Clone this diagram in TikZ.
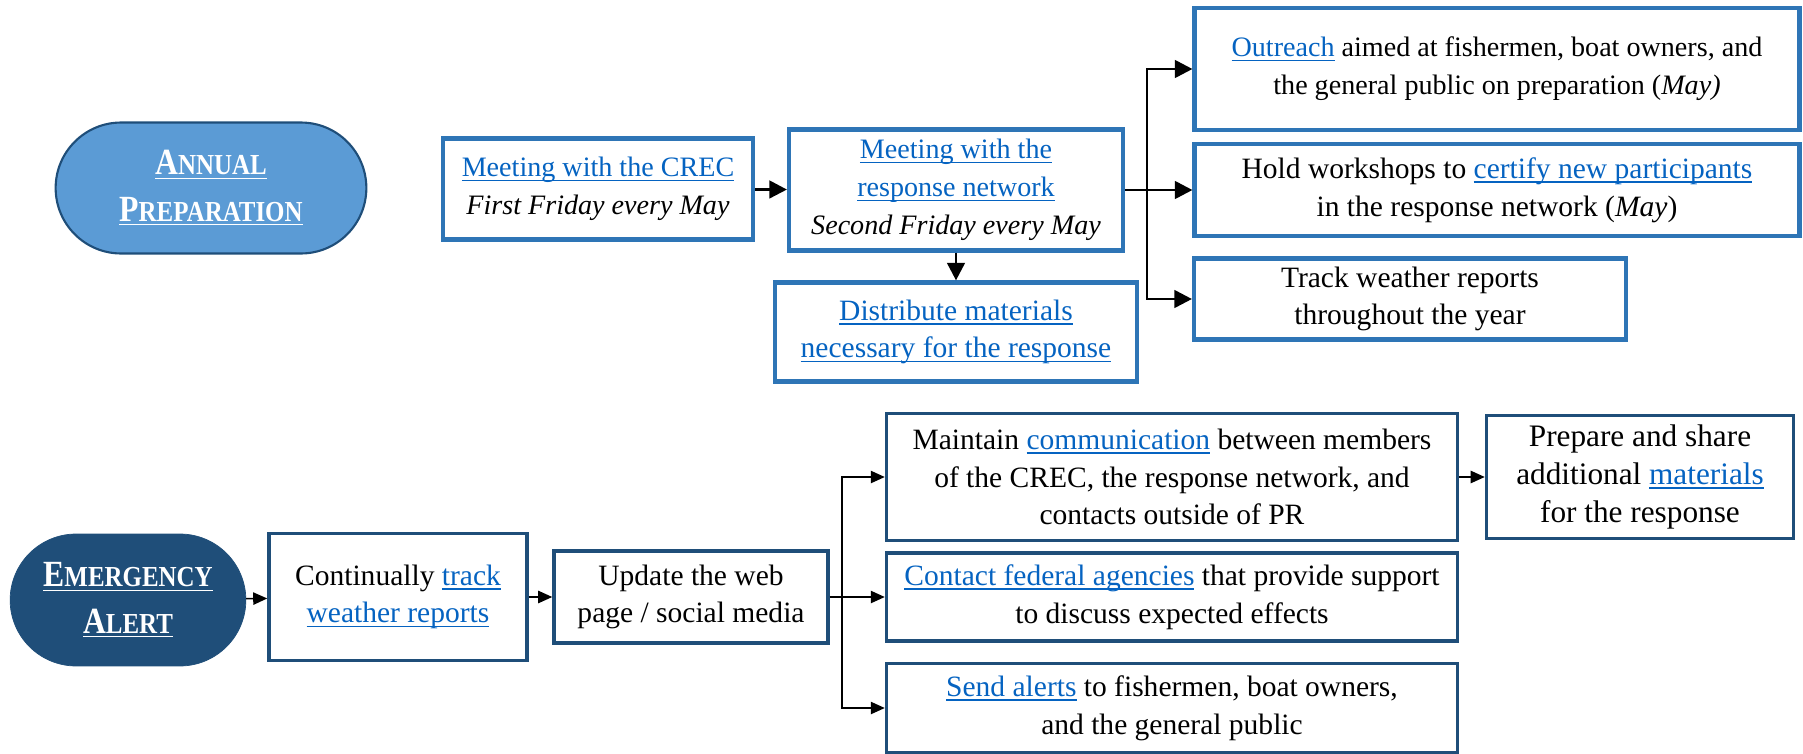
\documentclass[tikz,border=0pt]{standalone}
\usepackage{fontspec}
\setmainfont{Liberation Serif}
\newfontfamily\headfont{Liberation Serif}[FakeStretch=0.86]
\usetikzlibrary{shapes.misc,arrows.meta}
\definecolor{boxblue}{HTML}{2E75B6}
\definecolor{navy}{HTML}{1F4E79}
\definecolor{sky}{HTML}{5B9BD5}
\definecolor{linkblue}{HTML}{0563C1}
\newcommand{\ul}[1]{\setbox0\hbox{#1}\rlap{\vrule height -1.6pt depth 2.5pt width \wd0}\box0}
\newcommand{\lnk}[1]{\textcolor{linkblue}{\ul{#1}}}
\newcommand{\capsc}[2]{\ul{{\fontsize{21}{24}\selectfont #1}{\fontsize{16.5}{24}\selectfont #2}}}
\begin{document}
\begin{tikzpicture}[x=0.02cm,y=-0.02cm,
  font=\fontsize{16.8}{21.5}\selectfont,
  topbox/.style={draw=boxblue,line width=2.4pt,align=center,inner sep=0pt},
  botbox/.style={draw=navy,line width=2pt,align=center,inner sep=0pt},
  phase/.style={rounded rectangle,draw=navy,align=center,text=white,font=\headfont\bfseries},
  toparrow/.style={line width=1.6pt,-{Triangle[length=10pt,width=10pt]}},
  botarrow/.style={line width=0.9pt,-{Triangle[length=8pt,width=7pt]}}]
\useasboundingbox (0,0) rectangle (1803,754);
\node[phase,fill=sky,line width=1.2pt,minimum width=6.45cm,minimum height=2.62cm] (annual) at (211,188)
  {\capsc{A}{NNUAL}\\[9pt] \capsc{P}{REPARATION}};
\node[topbox,minimum width=6.2cm,minimum height=2.02cm,font=\fontsize{16}{21.5}\selectfont] (crec) at (598,189)
  {\lnk{Meeting with the CREC}\\ \textit{First Friday every May}};
\node[topbox,minimum width=6.68cm,minimum height=2.42cm,font=\fontsize{16}{21.5}\selectfont] (meet) at (956,190)
  {\lnk{Meeting with the}\\ \lnk{response network}\\ \textit{Second Friday every May}};
\node[topbox,minimum width=7.24cm,minimum height=1.98cm] (dist) at (956,332)
  {\lnk{Distribute materials}\\ \lnk{necessary for the response}};
\node[topbox,minimum width=12.1cm,minimum height=2.44cm,font=\fontsize{16}{21.5}\selectfont] (outreach) at (1497,69)
  {\lnk{Outreach} aimed at fishermen, boat owners, and\\ the general public on preparation (\textit{May)}};
\node[topbox,minimum width=12.1cm,minimum height=1.84cm] (hold) at (1497,190)
  {Hold workshops to \lnk{certify new participants}\\ in the response network (\textit{May})};
\node[topbox,minimum width=8.64cm,minimum height=1.62cm] (track) at (1410,299)
  {Track weather reports\\ throughout the year};
\coordinate (tj) at (1147,190);
\draw[toparrow] (crec) -- (meet);
\draw[toparrow] (meet) -- (dist);
\draw[toparrow] (meet) -- (hold);
\draw[toparrow] (tj) |- (outreach);
\draw[toparrow] (tj) |- (track);
\node[phase,fill=navy,minimum width=4.95cm,minimum height=2.64cm] (alert) at (128,600)
  {\capsc{E}{MERGENCY}\\[9pt] \capsc{A}{LERT}};
\node[botbox,minimum width=5.16cm,minimum height=2.54cm] (cont) at (398,597)
  {Continually \lnk{track}\\ \lnk{weather reports}};
\node[botbox,minimum width=5.48cm,minimum height=1.84cm] (upd) at (691,597)
  {Update the web\\ page / social media};
\node[botbox,minimum width=11.42cm,minimum height=2.54cm] (maint) at (1172,477)
  {Maintain \lnk{communication} between members\\ of the CREC, the response network, and\\ contacts outside of PR};
\node[botbox,minimum width=11.42cm,minimum height=1.76cm] (contact) at (1172,597)
  {\lnk{Contact federal agencies} that provide support\\ to discuss expected effects};
\node[botbox,minimum width=11.42cm,minimum height=1.78cm] (send) at (1172,708)
  {\lnk{Send alerts} to fishermen, boat owners,\\ and the general public};
\node[botbox,minimum width=6.14cm,minimum height=2.46cm,font=\fontsize{17.8}{21.5}\selectfont] (prep) at (1640,477)
  {Prepare and share\\ additional \lnk{materials}\\ for the response};
\coordinate (bj) at (842,597);
\draw[botarrow] (alert) -- (cont);
\draw[botarrow] (cont) -- (upd);
\draw[botarrow] (upd) -- (contact);
\draw[botarrow] (bj) |- (maint);
\draw[botarrow] (bj) |- (send);
\draw[botarrow] (maint) -- (prep);
\end{tikzpicture}
\end{document}
